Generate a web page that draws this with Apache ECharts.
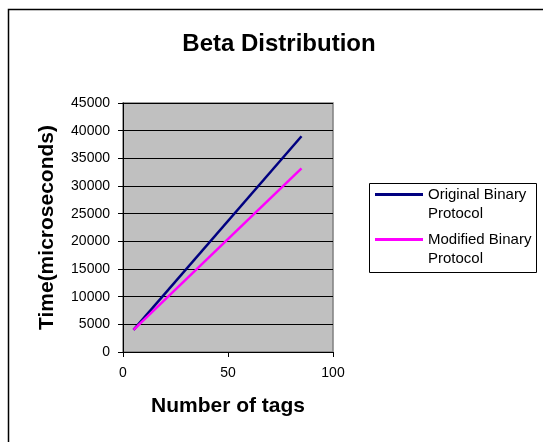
<!DOCTYPE html>
<html>
<head>
<meta charset="utf-8">
<script src="https://cdn.jsdelivr.net/npm/echarts@6/dist/echarts.min.js"></script>
<style>
  html, body { margin: 0; padding: 0; background: #fff; }
  #chart { width: 543px; height: 442px; }
</style>
</head>
<body>
<div id="chart"></div>
<script>
// Number of tags vs. identification time for the two protocols
const tagCounts = [5, 85];
const originalBinary = [4000, 39000];
const modifiedBinary = [4000, 33200];
const seriesNames = ['Original Binary\nProtocol', 'Modified Binary\nProtocol'];

const FONT = 'Liberation Sans, Arial, sans-serif';

// legend swatch: a bar at the top, padded below so it sits beside the first text line
const SWATCH = 'path://M0,0L48,0L48,3L0,3Z M0,22L0,22Z';

const chart = echarts.init(document.getElementById('chart'), null, { renderer: 'canvas' });

const pairs = (xs, ys) => xs.map((x, i) => [x, ys[i]]);

chart.setOption({
  backgroundColor: '#ffffff',
  animation: false,
  title: {
    text: 'Beta Distribution',
    left: 274,
    top: 27,
    textAlign: 'center',
    textStyle: { fontFamily: FONT, fontSize: 24, fontWeight: 'bold', color: '#000' }
  },
  graphic: [
    // outer chart frame (open on the right and bottom)
    { type: 'rect', shape: { x: 8.5, y: 9.5, width: 600, height: 500 },
      style: { fill: 'none', stroke: '#000', lineWidth: 1.5 }, silent: true, z: -1 },
    // legend frame
    { type: 'rect', shape: { x: 369.5, y: 183.5, width: 167, height: 89 },
      style: { fill: 'none', stroke: '#000', lineWidth: 1 }, silent: true }
  ],
  legend: {
    orient: 'vertical',
    left: 375,
    top: 185,
    padding: 0,
    itemGap: 7,
    itemWidth: 48,
    itemHeight: 22,
    icon: SWATCH,
    itemStyle: { borderWidth: 0 },
    data: seriesNames,
    textStyle: { fontFamily: FONT, fontSize: 15, color: '#000', lineHeight: 19 }
  },
  grid: {
    left: 123, top: 103, right: 210, bottom: 90,
    show: true,
    backgroundColor: '#c0c0c0',
    borderColor: '#808080',
    borderWidth: 1.5
  },
  xAxis: {
    type: 'value',
    min: 0, max: 100, interval: 50,
    name: 'Number of tags',
    nameLocation: 'middle',
    nameGap: 44,
    nameTextStyle: { fontFamily: FONT, fontSize: 21, fontWeight: 'bold', color: '#000' },
    axisLine: { show: true, lineStyle: { color: '#000', width: 1 } },
    axisTick: { show: true, length: 5, lineStyle: { color: '#000' } },
    axisLabel: { fontFamily: FONT, fontSize: 14, color: '#000', margin: 14 },
    splitLine: { show: false }
  },
  yAxis: {
    type: 'value',
    min: 0, max: 45000, interval: 5000,
    name: 'Time(microseconds)',
    nameLocation: 'middle',
    nameGap: 65,
    nameTextStyle: { fontFamily: FONT, fontSize: 21, fontWeight: 'bold', color: '#000' },
    axisLine: { show: true, lineStyle: { color: '#000', width: 1 } },
    axisTick: { show: true, length: 5, lineStyle: { color: '#000' } },
    axisLabel: { fontFamily: FONT, fontSize: 14, color: '#000', margin: 13,
                 formatter: v => String(v) },
    splitLine: { show: true, lineStyle: { color: '#000', width: 1 } }
  },
  series: [
    {
      name: seriesNames[0],
      type: 'line',
      data: pairs(tagCounts, originalBinary),
      symbol: 'none',
      lineStyle: { color: '#000080', width: 2.5 },
      itemStyle: { color: '#000080' }
    },
    {
      name: seriesNames[1],
      type: 'line',
      data: pairs(tagCounts, modifiedBinary),
      symbol: 'none',
      lineStyle: { color: '#ff00ff', width: 2.5 },
      itemStyle: { color: '#ff00ff' }
    }
  ]
});
</script>
</body>
</html>
